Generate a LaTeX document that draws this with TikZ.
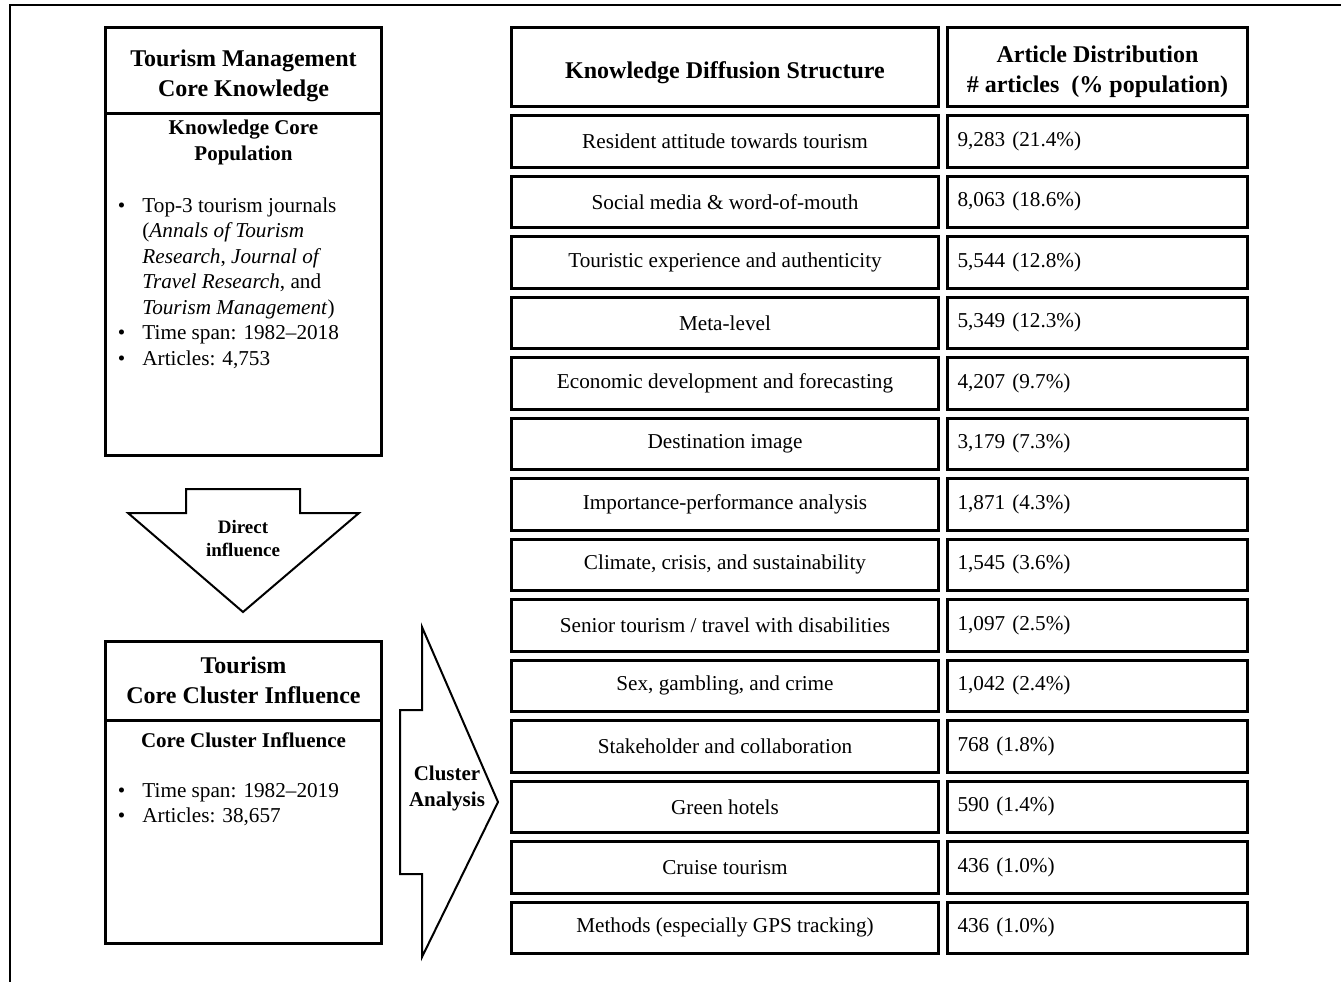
\documentclass[tikz,border=0pt]{standalone}
\usepackage{fontspec}
\setmainfont{Liberation Serif}
\usetikzlibrary{positioning, chains}

\tikzset{
every picture/.style={
line width=1pt
}}
\newcommand\dropto[2]{\raisebox{-#1}[\height][\depth]{\begin{tabular}{@{}c@{}}#2\end{tabular}}}

\begin{document}
\begin{tikzpicture}[x=0.5pt, y=-0.5pt,
block/.style = {rectangle, draw=black, line width=1.5pt, align=center, inner sep=0pt, outer sep=0pt},
topic/.style = {block, minimum width=213.5pt, minimum height=25.75pt, font=\fontsize{10.6}{12.75}\selectfont},
share/.style = {block, minimum width=150pt, minimum height=25.75pt, inner xsep=5pt, text width=140pt, align=left, font=\fontsize{10.6}{12.75}\selectfont},
head/.style = {font=\bfseries\fontsize{12}{15}\selectfont},
sub/.style = {align=center, font=\bfseries\fontsize{10.5}{13}\selectfont},
list/.style = {anchor=base west, inner sep=0pt, font=\fontsize{10.6}{12.75}\selectfont},
node distance = 4.5pt,
start chain= d going below]

  \useasboundingbox (0,0) rectangle (1341,982);
  \draw (1341,5) -- (10,5) -- (10,982);

  % left: core knowledge
  \node[block, head, minimum width=138pt, minimum height=42.75pt] (kt) at (243.5,70.25) {\dropto{2.5pt}{Tourism Management\\Core Knowledge}};
  \node[block, below=0pt of kt, minimum width=138pt, minimum height=171pt] (kb) {};
  \node[sub] (kp) at (243.5,142) {Knowledge Core\\Population};
  \node[list] (kl) at (117,212) {\begin{tabular}[t]{@{}l@{\hspace{8.5pt}}l@{}}
    \textbullet & Top-3 tourism journals\\
     & (\textit{Annals of Tourism}\\
     & \textit{Research}, \textit{Journal of}\\
     & \textit{Travel Research}, and\\
     & \textit{Tourism Management})\\
    \textbullet & Time span: 1982--2018\\
    \textbullet & Articles: 4,753
  \end{tabular}};

  \draw (186,489) -- (300,489) -- (300,513) -- (359,513) -- (243,612) -- (128,513) -- (186,513) -- cycle;
  \node[align=center, font=\bfseries\fontsize{9.5}{11.5}\selectfont] (di) at (243,538.5) {Direct\\influence};

  % left: cluster influence
  \node[block, head, minimum width=138pt, minimum height=39.25pt] (ct) at (243.5,680.75) {\dropto{1pt}{Tourism\\Core Cluster Influence}};
  \node[block, below=0pt of ct, minimum width=138pt, minimum height=111.5pt] (cb) {};
  \node[sub] (cp) at (243.5,740) {Core Cluster Influence};
  \node[list] (cl) at (117,797) {\begin{tabular}[t]{@{}l@{\hspace{8.5pt}}l@{}}
    \textbullet & Time span: 1982--2019\\
    \textbullet & Articles: 38,657
  \end{tabular}};

  \draw (422,627) -- (498,802) -- (422,957) -- (422,874) -- (400,874) -- (400,710) -- (422,710) -- cycle;
  \node[sub] (ca) at (447,788) {Cluster\\Analysis};

  % table
  \node[block, head, on chain, minimum width=213.5pt, minimum height=39.5pt] at (725,67) {\dropto{2.5pt}{Knowledge Diffusion Structure}};
  \node[topic, on chain] {Resident attitude towards tourism};
  \node[topic, on chain] {Social media \& word-of-mouth};
  \node[topic, on chain] {Touristic experience and authenticity};
  \node[topic, on chain] {Meta-level};
  \node[topic, on chain] {Economic development and forecasting};
  \node[topic, on chain] {Destination image};
  \node[topic, on chain] {Importance-performance analysis};
  \node[topic, on chain] {Climate, crisis, and sustainability};
  \node[topic, on chain] {Senior tourism / travel with disabilities};
  \node[topic, on chain] {Sex, gambling, and crime};
  \node[topic, on chain] {Stakeholder and collaboration};
  \node[topic, on chain] {Green hotels};
  \node[topic, on chain] {Cruise tourism};
  \node[topic, on chain] {Methods (especially GPS tracking)};

  \node[block, head, right=4.5pt of d-1, minimum width=150pt, minimum height=39.5pt] (ah) {\dropto{2pt}{Article Distribution\\\# articles~~(\% population)}};
  \node[share, right=4.5pt of d-2] (a2) {9,283 (21.4\%)};
  \node[share, right=4.5pt of d-3] (a3) {8,063 (18.6\%)};
  \node[share, right=4.5pt of d-4] (a4) {5,544 (12.8\%)};
  \node[share, right=4.5pt of d-5] (a5) {5,349 (12.3\%)};
  \node[share, right=4.5pt of d-6] (a6) {4,207 (9.7\%)};
  \node[share, right=4.5pt of d-7] (a7) {3,179 (7.3\%)};
  \node[share, right=4.5pt of d-8] (a8) {1,871 (4.3\%)};
  \node[share, right=4.5pt of d-9] (a9) {1,545 (3.6\%)};
  \node[share, right=4.5pt of d-10] (a10) {1,097 (2.5\%)};
  \node[share, right=4.5pt of d-11] (a11) {1,042 (2.4\%)};
  \node[share, right=4.5pt of d-12] (a12) {768 (1.8\%)};
  \node[share, right=4.5pt of d-13] (a13) {590 (1.4\%)};
  \node[share, right=4.5pt of d-14] (a14) {436 (1.0\%)};
  \node[share, right=4.5pt of d-15] (a15) {436 (1.0\%)};

\end{tikzpicture}
\end{document}
